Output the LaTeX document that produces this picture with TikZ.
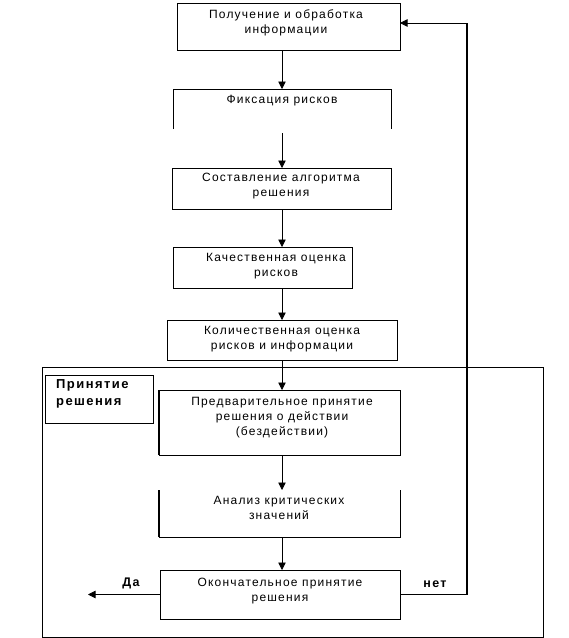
\documentclass[tikz,border=0pt]{standalone}
\usepackage{fontspec}
\setmainfont{Liberation Sans}[LetterSpace=10]
\newfontfamily\boldlbl{Liberation Sans Bold}[LetterSpace=11]
\usetikzlibrary{arrows.meta}
\begin{document}
\begin{tikzpicture}[x=1pt,y=-1pt,
  bx/.style={draw, line width=0.8pt, inner sep=0pt, outer sep=0pt},
  ghost/.style={inner sep=0pt, outer sep=0pt},
  txt/.style={align=center, inner sep=0pt, font=\fontsize{12}{15}\selectfont},
  lbl/.style={align=left, inner sep=0pt, font=\boldlbl\fontsize{13}{17}\selectfont},
  yn/.style={inner sep=0pt, font=\boldlbl\fontsize{12.5}{14}\selectfont},
  ln/.style={line width=0.8pt},
  thk/.style={line width=1.6pt},
  arr/.style={line width=0.8pt, -{Triangle[length=7.5pt,width=7.5pt]}}
]
\useasboundingbox (0,0) rectangle (569,638);
% outer frame
\node[bx, minimum width=501, minimum height=270] (outer) at (292.5,502) {};
\node[bx, minimum width=108, minimum height=48] (lb) at (99,399) {};
\node[lbl, anchor=west] (lbt) at (56,393.5) {Принятие\\решения};
% boxes
\node[bx, minimum width=223, minimum height=47] (b1) at (288.5,26.5) {};
\node[txt] (t1) at (286,22.5) {Получение и обработка\\информации};
\node[ghost, minimum width=218, minimum height=40] (b2) at (282,109) {};
\draw[ln] (b2.south west) -- (b2.north west) -- (b2.north east) -- (b2.south east);
\node[txt] (t2) at (282,101) {Фиксация рисков};
\node[bx, minimum width=219, minimum height=41] (b3) at (281.5,188.5) {};
\node[txt] (t3) at (281,186) {Составление алгоритма\\решения};
\node[bx, minimum width=179, minimum height=41] (b4) at (262.5,267.5) {};
\node[txt] (t4) at (276,266) {Качественная оценка\\рисков};
\node[bx, minimum width=230, minimum height=40] (b5) at (282,340) {};
\node[txt] (t5) at (282,339) {Количественная оценка\\рисков и информации};
\node[bx, minimum width=241, minimum height=65] (b6) at (279.5,422.5) {};
\draw[thk] (b6.south west) -- (b6.north west);
\node[txt] (t6) at (282,418) {Предварительное принятие\\решения о действии\\(бездействии)};
\node[ghost, minimum width=241, minimum height=47] (b7) at (279.5,513.5) {};
\draw[ln] (b7.south west) -- (b7.south east) -- (b7.north east);
\draw[thk] (b7.north west) -- (b7.south west);
\node[txt] (t7) at (279,507.5) {Анализ критических\\значений};
\node[bx, minimum width=240, minimum height=49] (b8) at (280,594.5) {};
\node[txt] (t8) at (280,591) {Окончательное принятие\\решения};
% vertical arrows
\coordinate (ax) at (282,0);
\draw[arr] (b1.south -| ax) -- (b2.north -| ax);
\draw[arr] ([yshift=-4pt]b2.south -| ax) -- (b3.north -| ax);
\draw[arr] (b3.south -| ax) -- (b4.north -| ax);
\draw[arr] (b4.south -| ax) -- (b5.north -| ax);
\draw[arr] (b5.south -| ax) -- (b6.north -| ax);
\draw[arr] (b6.south -| ax) -- (b7.north -| ax);
\draw[arr] (b7.south -| ax) -- (b8.north -| ax);
% yes / no
\coordinate (yes) at (88,594.5);
\draw[arr] (b8.west) -- (yes);
\node[yn] (da) at (131,583) {Да};
\coordinate (fb) at (467,0);
\coordinate (fbtop) at (467,23);
\draw[ln] (b8.east) -- (b8.east -| fb);
\draw[thk] (b8.east -| fb) -- (fbtop);
\draw[arr] (fbtop) -- (b1.east |- fbtop);
\node[yn] (net) at (435,584) {нет};
\end{tikzpicture}
\end{document}
